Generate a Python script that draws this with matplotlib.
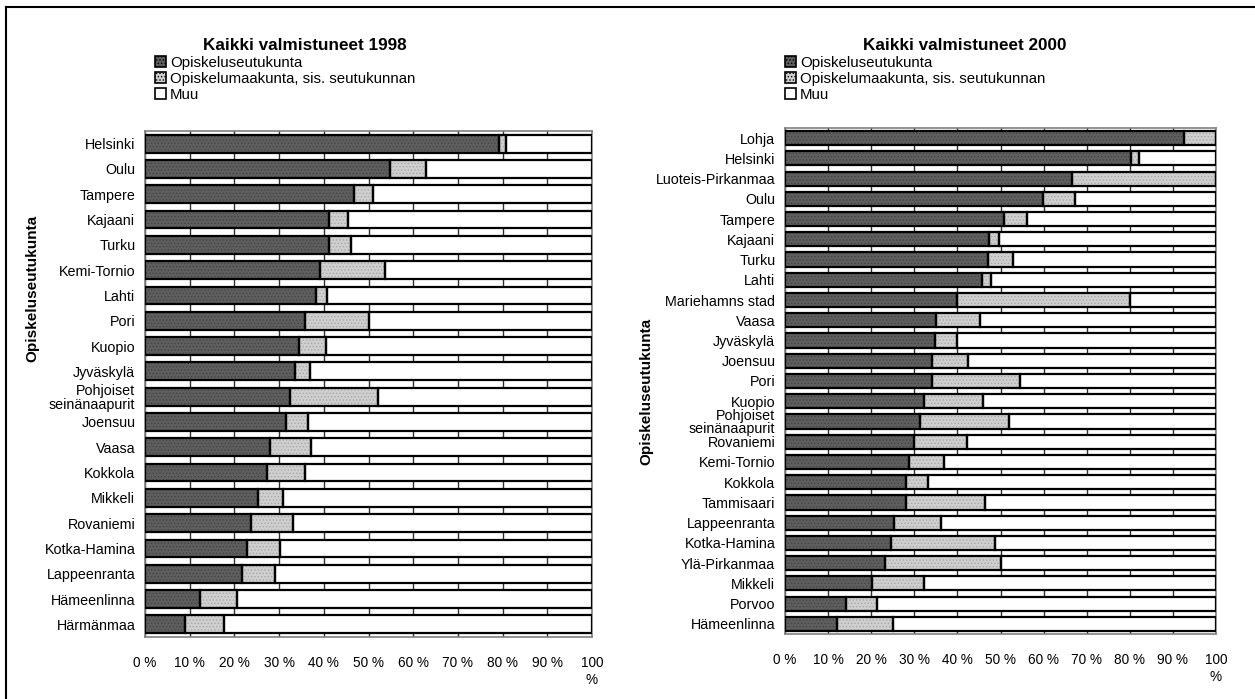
import matplotlib
matplotlib.use("Agg")
import matplotlib.pyplot as plt
from matplotlib.patches import Patch
from matplotlib.lines import Line2D

plt.rcParams['font.family'] = ['Liberation Sans', 'DejaVu Sans']
plt.rcParams['hatch.linewidth'] = 0.6

# 1998 data (share %, top to bottom)
regions_1998 = ['Helsinki', 'Oulu', 'Tampere', 'Kajaani', 'Turku', 'Kemi-Tornio',
                'Lahti', 'Pori', 'Kuopio', 'Jyväskylä', 'Pohjoiset\nseinänaapurit',
                'Joensuu', 'Vaasa', 'Kokkola', 'Mikkeli', 'Rovaniemi',
                'Kotka-Hamina', 'Lappeenranta', 'Hämeenlinna', 'Härmänmaa']
local_1998 = [79.1, 54.8, 46.8, 41.1, 41.1, 39.2, 38.2, 35.8, 34.5, 33.5, 32.5,
              31.5, 28.0, 27.3, 25.2, 23.7, 22.9, 21.7, 12.4, 8.9]
province_1998 = [1.6, 8.1, 4.2, 4.4, 5.0, 14.5, 2.5, 14.3, 6.0, 3.5, 19.7,
                 5.0, 9.1, 8.5, 5.7, 9.4, 7.2, 7.3, 8.2, 8.8]

# 2000 data
regions_2000 = ['Lohja', 'Helsinki', 'Luoteis-Pirkanmaa', 'Oulu', 'Tampere', 'Kajaani',
                'Turku', 'Lahti', 'Mariehamns stad', 'Vaasa', 'Jyväskylä', 'Joensuu',
                'Pori', 'Kuopio', 'Pohjoiset\nseinänaapurit', 'Rovaniemi', 'Kemi-Tornio',
                'Kokkola', 'Tammisaari', 'Lappeenranta', 'Kotka-Hamina', 'Ylä-Pirkanmaa',
                'Mikkeli', 'Porvoo', 'Hämeenlinna']
local_2000 = [92.5, 80.3, 66.7, 59.9, 50.9, 47.3, 47.1, 45.7, 40.0, 35.1, 34.7, 34.0,
              34.0, 32.2, 31.4, 30.0, 28.8, 28.1, 28.1, 25.4, 24.6, 23.3, 20.3, 14.2, 12.0]
province_2000 = [7.5, 1.9, 33.3, 7.3, 5.2, 2.4, 5.9, 2.0, 40.1, 10.1, 5.1, 8.5,
                 20.6, 13.8, 20.5, 12.2, 8.2, 5.0, 18.4, 10.8, 24.1, 26.7, 11.9, 7.1, 13.0]

series_labels = ['Opiskeluseutukunta', 'Opiskelumaakunta, sis. seutukunnan', 'Muu']
x_ticks = [0, 10, 20, 30, 40, 50, 60, 70, 80, 90, 100]
x_tick_labels = ['0 %', '10 %', '20 %', '30 %', '40 %', '50 %', '60 %', '70 %',
                 '80 %', '90 %', '100\n%']

DARK = '#5e5e5e'
LIGHT = '#cfcfcf'
styles = [(DARK, '#444444'), (LIGHT, '#a8a8a8'), ('white', 'white')]


def draw_panel(ax, regions, local, province, legend_x):
    muu = [100 - a - b for a, b in zip(local, province)]
    y = list(range(len(regions)))
    lefts = [0] * len(regions)
    for vals, (fc, hc) in zip([local, province, muu], styles):
        hatch = '.....' if fc != 'white' else None
        ax.barh(y, vals, left=lefts, height=0.7, color=fc, edgecolor=hc,
                linewidth=0, hatch=hatch, zorder=2)
        ax.barh(y, vals, left=lefts, height=0.7, fill=False, edgecolor='black',
                linewidth=1.6, zorder=3)
        lefts = [l + v for l, v in zip(lefts, vals)]

    ax.set_xlim(0, 100)
    ax.set_ylim(len(regions) - 0.5, -0.5)
    ax.set_yticks(y)
    ax.set_yticklabels(regions, fontsize=10.3, linespacing=0.95)
    ax.set_xticks(x_ticks)
    ax.set_xticklabels(x_tick_labels, fontsize=9.8)
    ax.tick_params(length=0, pad=7)
    ax.tick_params(axis='x', pad=14)
    ax.grid(axis='x', color='#303030', linewidth=1.0, zorder=0)
    ax.set_axisbelow(True)
    for s in ax.spines.values():
        s.set_color('#808080')
        s.set_linewidth(1.2)

    handles = [Patch(facecolor=fc, edgecolor='black', hatch='.....' if fc != 'white' else None,
                     linewidth=1.2) for fc, _ in styles]
    fig.legend(handles, series_labels, loc='upper left', bbox_to_anchor=(legend_x, 1 - 56 / 699),
               frameon=False, fontsize=10.8, handlelength=0.75, handleheight=0.75,
               handletextpad=0.25, labelspacing=0.14, borderaxespad=0, borderpad=0)
    return ax


fig = plt.figure(figsize=(12.55, 6.99), dpi=100)
ax1 = fig.add_axes([145 / 1255, 1 - 637 / 699, 447 / 1255, 506 / 699])
ax2 = fig.add_axes([785 / 1255, 1 - 634 / 699, 431 / 1255, 506 / 699])

draw_panel(ax1, regions_1998, local_1998, province_1998, 155 / 1255)
draw_panel(ax2, regions_2000, local_2000, province_2000, 785 / 1255)

fig.text(305 / 1255, 1 - 46 / 699, 'Kaikki valmistuneet 1998', fontsize=12.3,
         fontweight='bold', ha='center', va='center')
fig.text(965 / 1255, 1 - 46 / 699, 'Kaikki valmistuneet 2000', fontsize=12.3,
         fontweight='bold', ha='center', va='center')

fig.text(32 / 1255, 1 - 288 / 699, 'Opiskeluseutukunta', fontsize=11, fontweight='bold',
         rotation=90, ha='center', va='center')
fig.text(646 / 1255, 1 - 391 / 699, 'Opiskeluseutukunta', fontsize=11, fontweight='bold',
         rotation=90, ha='center', va='center')

# outer frame (left and top edges only are inside the picture)
fig.add_artist(Line2D([6 / 1255, 6 / 1255], [0, 1 - 7 / 699], color='black', linewidth=1.5,
                      transform=fig.transFigure))
fig.add_artist(Line2D([6 / 1255, 1], [1 - 7 / 699, 1 - 7 / 699], color='black', linewidth=1.5,
                      transform=fig.transFigure))

fig.savefig('out.png', dpi=100)
